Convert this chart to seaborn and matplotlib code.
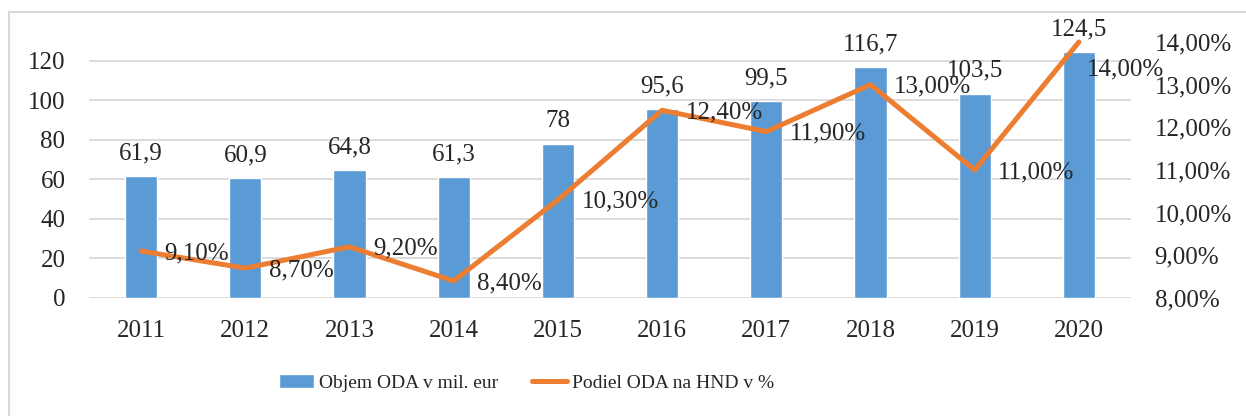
import numpy as np
import pandas as pd
import seaborn as sns
import matplotlib.pyplot as plt
from matplotlib.patches import Rectangle

years = ["2011", "2012", "2013", "2014", "2015", "2016", "2017", "2018", "2019", "2020"]
oda_volume = [61.9, 60.9, 64.8, 61.3, 78, 95.6, 99.5, 116.7, 103.5, 124.5]
oda_share = [9.1, 8.7, 9.2, 8.4, 10.3, 12.4, 11.9, 13.0, 11.0, 14.0]
left_ticks = [0, 20, 40, 60, 80, 100, 120]
right_ticks = [8, 9, 10, 11, 12, 13, 14]

bar_color = "#5B9BD5"
line_color = "#ED7D31"
grid_color = "#D9D9D9"

sns.set_style("white")
plt.rcParams["font.family"] = ["Liberation Serif", "DejaVu Serif"]
plt.rcParams["font.size"] = 18

df = pd.DataFrame({"year": years, "volume": oda_volume, "share": oda_share})

fig = plt.figure(figsize=(12.46, 4.16), dpi=100)
ax = fig.add_axes([89 / 1246, 1 - 298 / 416, (1131 - 89) / 1246, (298 - 42) / 416])

sns.barplot(data=df, x="year", y="volume", color=bar_color, width=0.31,
            saturation=1, ax=ax, label="Objem ODA v mil. eur")
if ax.get_legend() is not None:
    ax.get_legend().remove()
ax.set_ylim(0, 129.6)
ax.set_yticks(left_ticks)
ax.set_xlim(-0.5, len(years) - 0.5)
ax.yaxis.grid(True, color=grid_color, linewidth=1.3)
ax.set_axisbelow(True)
for s in ax.spines.values():
    s.set_visible(False)
ax.tick_params(axis="both", length=0, labelsize=18)
ax.tick_params(axis="x", pad=16)
ax.tick_params(axis="y", pad=17)
ax.set_xlabel("")
ax.set_ylabel("")

for i, v in enumerate(oda_volume):
    ax.annotate(f"{v:g}".replace(".", ","), (i, v), xytext=(0, 12),
                textcoords="offset points", ha="center", va="baseline", fontsize=18)

ax2 = ax.twinx()
sns.lineplot(x=np.arange(len(years)), y=oda_share, color=line_color, linewidth=3.6,
             ax=ax2, label="Podiel ODA na HND v %", legend=False)
ax2.set_ylim(8, 14)
ax2.set_yticks(right_ticks)
ax2.set_yticklabels([f"{t:.2f}%".replace(".", ",") for t in right_ticks])
for s in ax2.spines.values():
    s.set_visible(False)
ax2.tick_params(axis="y", length=0, pad=17, labelsize=18)
ax2.set_ylabel("")
for line in ax2.lines:
    line.set_clip_on(False)

for i, v in enumerate(oda_share):
    offset = (17, -1.5)
    if i == len(years) - 1:
        offset = (6, -20)
    ax2.annotate(f"{v:.2f}%".replace(".", ","), (i, v), xytext=offset,
                 textcoords="offset points", ha="left", va="center", fontsize=18)

h1, l1 = ax.get_legend_handles_labels()
h2, l2 = ax2.get_legend_handles_labels()
fig.legend(h1 + h2, l1 + l2, loc="center left", bbox_to_anchor=(279 / 1246, 1 - 383 / 416),
           ncol=2, frameon=False, fontsize=14, handlelength=1.8, handletextpad=0.25,
           columnspacing=1.75, borderpad=0, borderaxespad=0)

fig.patches.append(Rectangle((9 / 1246, -0.1), 1.2, 1.1 - 12 / 416, transform=fig.transFigure,
                             fill=False, edgecolor=grid_color, linewidth=1.5))

fig.savefig("out.png", dpi=100)
